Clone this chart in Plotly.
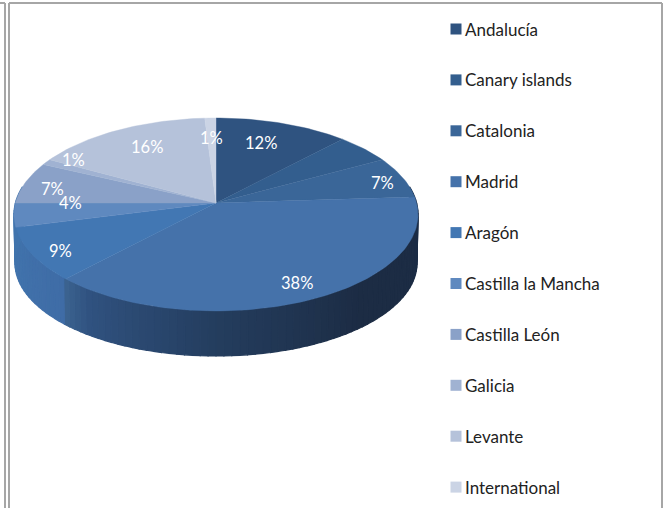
import math
import plotly.graph_objects as go

categories = ["Andalucía", "Canary islands", "Catalonia", "Madrid", "Aragón",
              "Castilla la Mancha", "Castilla León", "Galicia", "Levante", "International"]
values = [12, 5, 7, 38, 9, 4, 7, 1, 16, 1]
labels = ["12%", "", "7%", "38%", "9%", "4%", "7%", "1%", "16%", "1%"]
colors = ["#2f5380", "#335e8e", "#3a6698", "#4572aa", "#4277b3",
          "#5f89bf", "#8aa1c8", "#a0b2d2", "#b5c2da", "#cbd4e5"]

# styling / geometry (canvas pixels): a circle seen in perspective
W, H = 665, 508
CX, CY, R, HT, P = 216, 203, 200.6, 95.1, 0.119
BCY, BR, BHT = 252, 199.6, 91.6
label_angle = [17.5, 0, 74, 151.6, 240, 270, 281.6, 305.7, 332.6, 358.5]
label_radius = [.74, 0, .855, .84, .89, .718, .824, .866, .742, .765]
legend_x, legend_y0, legend_dy = 456, 29, 50.9
FONT = "Lato"
side_stops = [(78, "#1b2c45"), (140, "#1c2c44"), (180, "#243d5e"), (215, "#305280"),
              (223.1, "#3b628f"), (223.3, "#3f6ca6"), (260, "#4174ad"), (282, "#4174ad")]


def persp(a, cy, rad, ht):
    t = math.radians(a)
    d = 1 + P * math.cos(t)
    return CX + rad * math.sin(t) / d, cy - ht * math.cos(t) / d


def top_pt(a):
    return persp(a, CY, R, HT)


def bot_pt(a):
    return persp(a, BCY, BR, BHT)


def label_pt(a, r):
    t = math.radians(a)
    c = math.cos(t)
    return CX + 202 * r * math.sin(t), CY - (85 if c > 0 else 108) * r * c


def hex_rgb(h):
    return [int(h[i:i + 2], 16) for i in (1, 3, 5)]


def side_color(a):
    for (a0, c0), (a1, c1) in zip(side_stops, side_stops[1:]):
        if a0 <= a <= a1:
            f = (a - a0) / (a1 - a0)
            m = [round(p + (q - p) * f) for p, q in zip(hex_rgb(c0), hex_rgb(c1))]
            return "rgb(%d,%d,%d)" % tuple(m)
    return side_stops[-1][1]


fig = go.Figure()

# extruded side, lower half of the disc
step = 2
for a in range(80, 280, step):
    p = [top_pt(a), top_pt(a + step), bot_pt(a + step), bot_pt(a)]
    col = side_color(a + step / 2)
    fig.add_trace(go.Scatter(x=[q[0] for q in p] + [p[0][0]], y=[q[1] for q in p] + [p[0][1]],
                             mode="lines", fill="toself", fillcolor=col,
                             line=dict(color=col, width=1.2), hoverinfo="skip", showlegend=False))

# top face slices
total = sum(values)
start = 0.0
for name, v, col in zip(categories, values, colors):
    end = start + v / total * 360
    n = max(3, int(v * 3))
    pts = [top_pt(start + (end - start) * i / n) for i in range(n + 1)]
    xs = [CX] + [q[0] for q in pts] + [CX]
    ys = [CY] + [q[1] for q in pts] + [CY]
    fig.add_trace(go.Scatter(x=xs, y=ys, mode="lines", fill="toself", fillcolor=col,
                             line=dict(color=col, width=0.4), name=name, showlegend=False,
                             hoveron="fills", text=f"{name}: {v}%", hoverinfo="text"))
    start = end

# value labels
for txt, a, r in zip(labels, label_angle, label_radius):
    if txt:
        x, y = label_pt(a, r)
        fig.add_annotation(x=x, y=y, text=txt, showarrow=False,
                           font=dict(family=FONT, size=16.5, color="white"))

# legend
leg_y = [legend_y0 + legend_dy * i for i in range(len(categories))]
fig.add_trace(go.Scatter(x=[legend_x] * len(categories), y=leg_y, mode="markers",
                         marker=dict(symbol="square", size=11, color=colors, line=dict(width=0)),
                         hoverinfo="skip", showlegend=False))
for name, y in zip(categories, leg_y):
    fig.add_annotation(x=legend_x + 7, y=y, text=name, showarrow=False, xanchor="left",
                       font=dict(family=FONT, size=17, color="#222222"))

# frame lines
frame = "#a6a6a6"
shapes = [
    dict(type="line", x0=5, x1=5, y0=3, y1=H, line=dict(color=frame, width=2)),
    dict(type="line", x0=9, x1=9, y0=3, y1=H, line=dict(color=frame, width=2)),
    dict(type="line", x0=0, x1=5, y0=3, y1=3, line=dict(color=frame, width=2)),
    dict(type="line", x0=9, x1=662, y0=3, y1=3, line=dict(color=frame, width=2)),
    dict(type="line", x0=662, x1=662, y0=3, y1=H, line=dict(color=frame, width=2)),
]

fig.update_layout(
    width=W, height=H, margin=dict(l=0, r=0, t=0, b=0), autosize=False,
    paper_bgcolor="white", plot_bgcolor="white", shapes=shapes,
    xaxis=dict(range=[0, W], visible=False, fixedrange=True),
    yaxis=dict(range=[H, 0], visible=False, fixedrange=True),
)
fig.write_html("out.html", config={"displayModeBar": False},
               post_script="document.body.style.margin='0';document.body.style.overflow='hidden';")
